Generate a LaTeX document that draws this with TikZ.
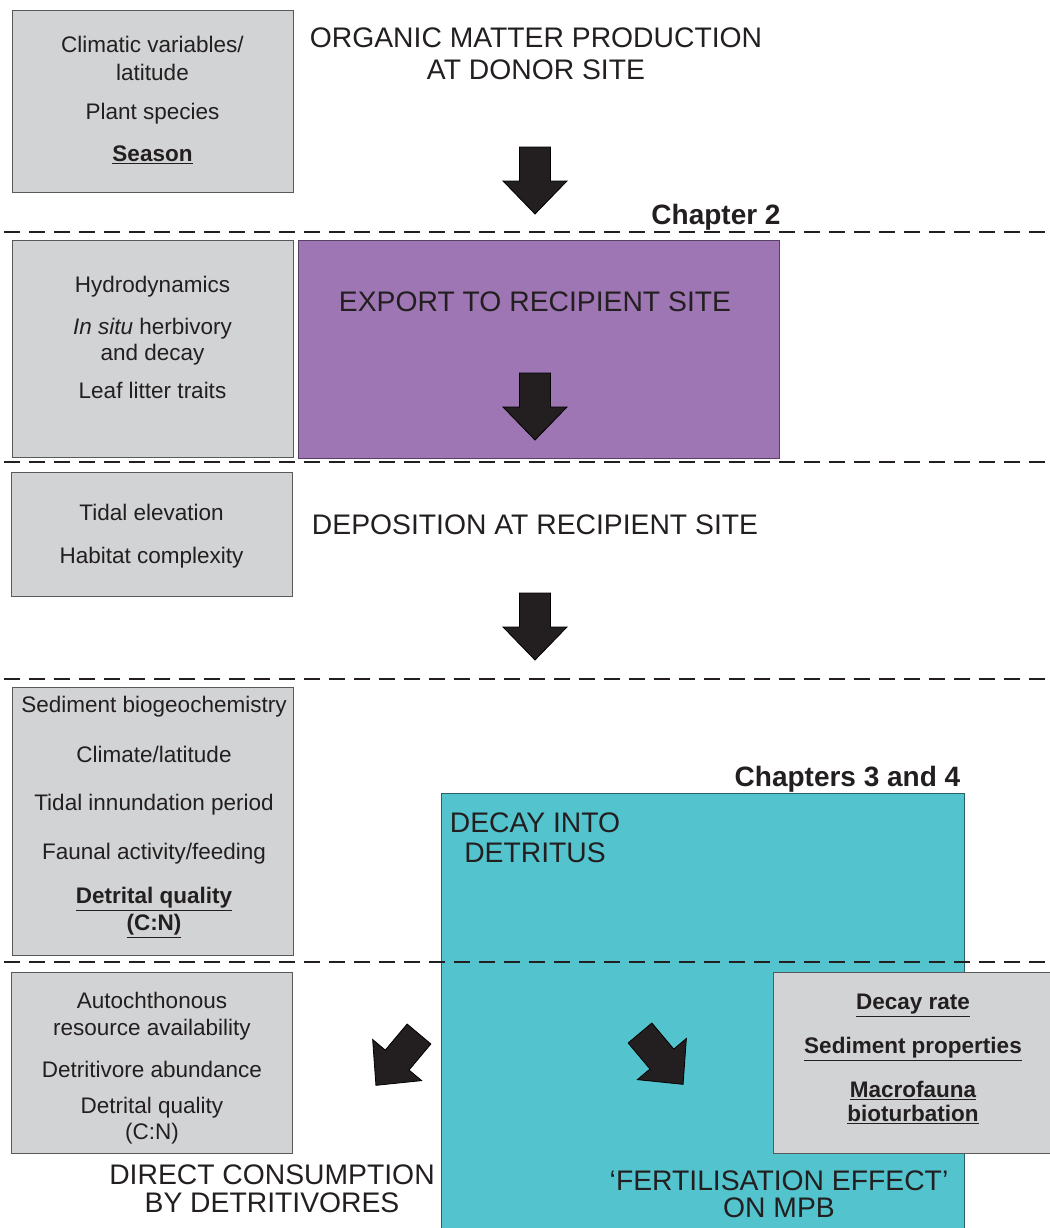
\documentclass[tikz,border=0pt]{standalone}
\usepackage{fontspec}
\setmainfont{Liberation Sans}

\definecolor{boxgray}{HTML}{D1D3D4}
\definecolor{boxline}{HTML}{58595B}
\definecolor{exportpurple}{HTML}{9E76B4}
\definecolor{decayteal}{HTML}{53C3CD}
\definecolor{inkblack}{HTML}{231F20}

\begin{document}
\begin{tikzpicture}[x=1pt,y=-1pt,
  every node/.style={text=inkblack,inner sep=0pt},
  graybox/.style={draw=boxline,fill=boxgray,line width=1pt},
  boxtext/.style={align=center,font=\fontsize{22.5}{26}\selectfont},
  stagetext/.style={align=center,font=\fontsize{28.3}{30}\selectfont},
  chaptertext/.style={anchor=base,font=\fontsize{28}{30}\selectfont\bfseries},
  sectionline/.style={draw=inkblack,line width=2pt,dash pattern=on 16pt off 9pt},
  blockarrow/.style={fill=inkblack,draw=black,line width=0.8pt}]
\useasboundingbox (0,0) rectangle (1049,1228);

% coloured stage boxes
\node[draw=exportpurple!55!black,fill=exportpurple,line width=1pt,minimum width=481pt,minimum height=218pt] (exportbox) at (538.5,349) {};
\node[draw=decayteal!50!black,fill=decayteal,line width=1pt,minimum width=523pt,minimum height=436pt] (decaybox) at (702.5,1011) {};

% factor boxes
\node[graybox,minimum width=281pt,minimum height=181pt] (donorbox) at (152.5,101.5) {};
\node[graybox,minimum width=281pt,minimum height=217pt] (exportfactors) at (152.5,348.5) {};
\node[graybox,minimum width=281pt,minimum height=124pt] (depositfactors) at (151.5,534) {};
\node[graybox,minimum width=281pt,minimum height=268pt] (decayfactors) at (152.5,821) {};
\node[graybox,minimum width=281pt,minimum height=181pt] (consumefactors) at (151.5,1062.5) {};
\node[graybox,minimum width=278pt,minimum height=181pt] (mpbfactors) at (912,1062.5) {};

% chapter limits
\foreach \ly in {232,462,679,962}
  \draw[sectionline] (4,\ly) -- (1049,\ly);

% flow arrows
\foreach \ax/\ay/\rot in {535/147/0,535/373/0,535/593/0,419/1034/-40,640/1033/40}
  \filldraw[blockarrow,shift={(\ax,\ay)},rotate=\rot] (-15.5,0) -- (15.5,0) -- (15.5,34) -- (32,34) -- (0,67) -- (-32,34) -- (-15.5,34) -- cycle;

% factor texts
\node[boxtext] (donortext) at (152.5,100) {Climatic variables/\\[2pt]latitude\\[13pt]Plant species\\[16pt]\textbf{\underline{Season}}};
\node[boxtext] (exporttext) at (152.5,337) {Hydrodynamics\\[16pt]\textit{In situ} herbivory\\and decay\\[12pt]Leaf litter traits};
\node[boxtext] (deposittext) at (151.5,536.5) {Tidal elevation\\[17pt]Habitat complexity};
\node[boxtext] (decaytext) at (154,817) {Sediment biogeochemistry\\[24pt]Climate/latitude\\[22pt]Tidal innundation period\\[23pt]Faunal activity/feeding\\[18pt]\textbf{\underline{Detrital quality}}\\[1pt]\textbf{\underline{(C:N)}}};
\node[boxtext] (consumetext) at (152,1068.5) {Autochthonous\\[1pt]resource availability\\[16pt]Detritivore abundance\\[10pt]Detrital quality\\(C:N)};
\node[boxtext] (mpbtext) at (913,1059) {\textbf{\underline{Decay rate}}\\[18pt]\textbf{\underline{Sediment properties}}\\[18pt]\textbf{\underline{Macrofauna}}\\[-2pt]\textbf{\underline{bioturbation}}};

% stage texts
\node[stagetext] (productionstage) at (536,54) {ORGANIC MATTER PRODUCTION\\[2pt]AT DONOR SITE};
\node[stagetext] (exportstage) at (535,302) {EXPORT TO RECIPIENT SITE};
\node[stagetext] (depositstage) at (535,525) {DEPOSITION AT RECIPIENT SITE};
\node[stagetext] (decaystage) at (535,838) {DECAY INTO\\DETRITUS};
\node[stagetext] (consumestage) at (272,1189) {DIRECT CONSUMPTION\\[-2pt]BY DETRITIVORES};
\node[stagetext] (mpbstage) at (779,1194) {‘FERTILISATION EFFECT’\\[-3pt]ON MPB};

% chapter labels
\node[chaptertext] (chaptertwo) at (716,224) {Chapter 2};
\node[chaptertext] (chaptersthreefour) at (847.5,786) {Chapters 3 and 4};
\end{tikzpicture}
\end{document}
